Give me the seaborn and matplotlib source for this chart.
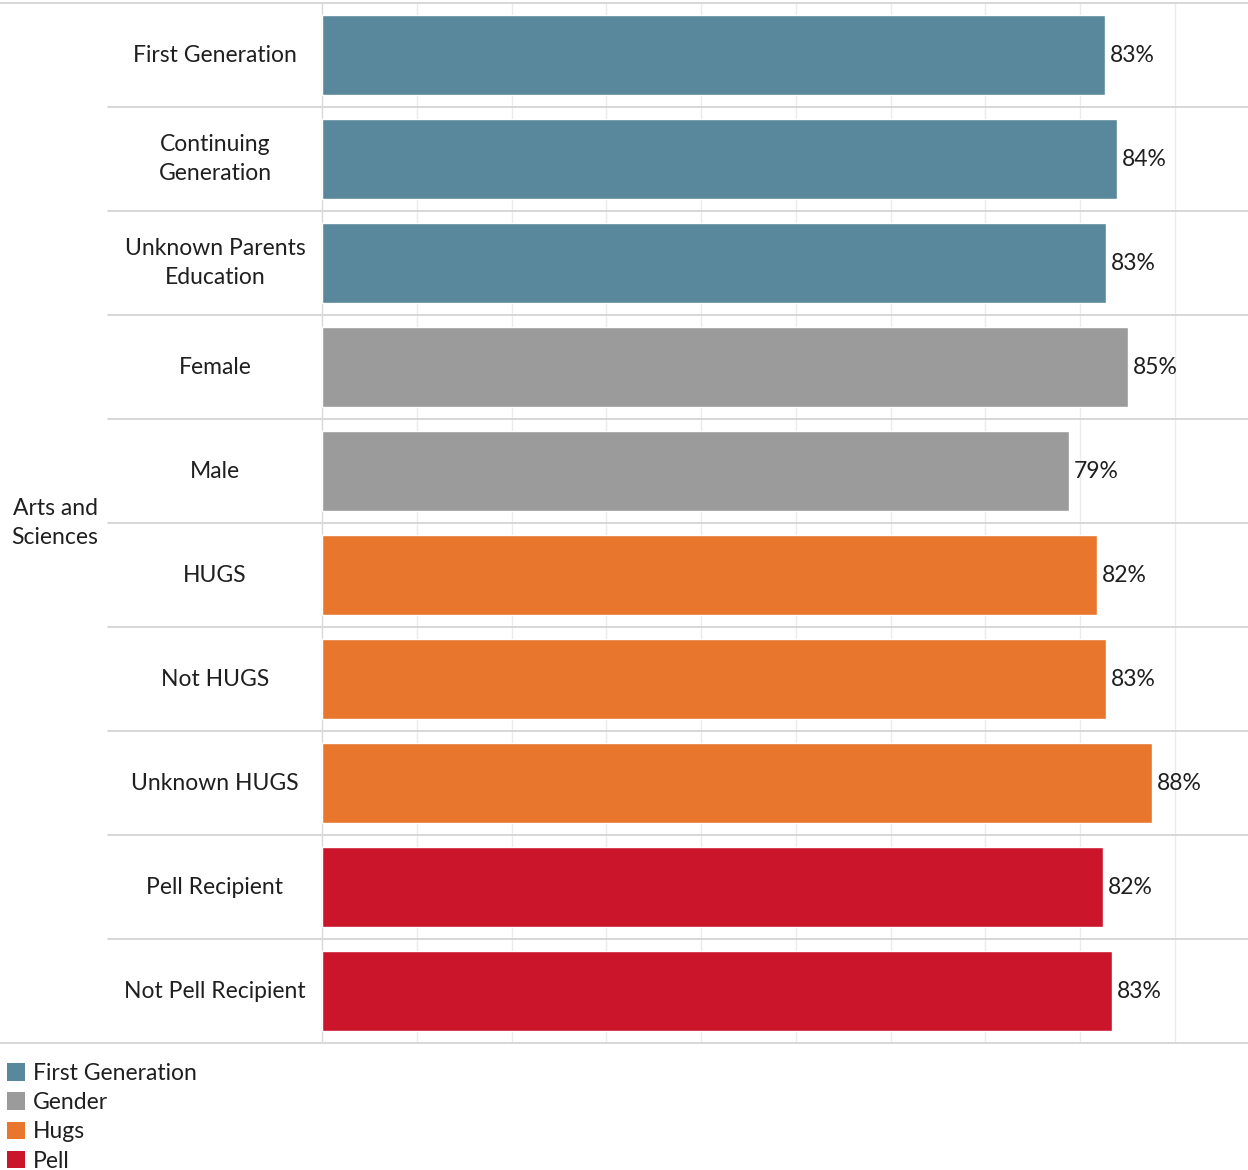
import matplotlib
matplotlib.use("Agg")
import matplotlib.pyplot as plt
import matplotlib.transforms as mtransforms
from matplotlib.patches import Patch
import pandas as pd
import seaborn as sns

# Retention rates by student group, Arts and Sciences
categories = [
    "First Generation", "Continuing\nGeneration", "Unknown Parents\nEducation",
    "Female", "Male", "HUGS", "Not HUGS", "Unknown HUGS",
    "Pell Recipient", "Not Pell Recipient",
]
groups = [
    "First Generation", "First Generation", "First Generation",
    "Gender", "Gender", "Hugs", "Hugs", "Hugs", "Pell", "Pell",
]
rates = [82.6, 83.9, 82.7, 85.0, 78.8, 81.8, 82.7, 87.6, 82.4, 83.4]
college = "Arts and\nSciences"
group_order = ["First Generation", "Gender", "Hugs", "Pell"]
group_colors = ["#59879B", "#9B9B9B", "#E8762D", "#CB152B"]

df = pd.DataFrame({"category": categories, "group": groups, "rate": rates})

sns.set_theme(style="white")
plt.rcParams["font.family"] = ["Lato", "DejaVu Sans"]

W, H = 1248, 1170
fig = plt.figure(figsize=(W / 100, H / 100), dpi=100)
left_px, top_px, bottom_px = 322, 3, 1043
ax = fig.add_axes([left_px / W, 1 - bottom_px / H, 1 - left_px / W, (bottom_px - top_px) / H])

palette = dict(zip(group_order, group_colors))
sns.barplot(data=df, x="rate", y="category", hue="group", hue_order=group_order,
            palette=palette, dodge=False, width=0.76, orient="h",
            saturation=1, legend=False, ax=ax, zorder=3)

n = len(categories)
ax.set_ylim(n - 0.5, -0.5)
ax.set_xlim(0, 97.7)
ax.set_xticks(range(10, 100, 10))
ax.xaxis.grid(True, color="#EBEBEB", linewidth=1)
ax.set_axisbelow(True)
ax.tick_params(left=False, bottom=False, labelleft=False, labelbottom=False)
ax.set_xlabel("")
ax.set_ylabel("")
for side in ["top", "right", "bottom"]:
    ax.spines[side].set_visible(False)
ax.spines["left"].set_color("#D9D9D9")
ax.spines["left"].set_linewidth(1)

text_color = "#1F1F1F"

# Value labels at bar ends
for i, v in enumerate(rates):
    ax.annotate(f"{v:.0f}%", (v, i), xytext=(3.5, 0), textcoords="offset points",
                va="center", ha="left", fontsize=16.5, color=text_color)

# Row headers and separators in figure coordinates across the table
trans = mtransforms.blended_transform_factory(fig.transFigure, ax.transData)
label_x = 215 / W
for i, name in enumerate(categories):
    ax.text(label_x, i, name, transform=trans, ha="center", va="center",
            fontsize=16.5, color=text_color, linespacing=1.5, clip_on=False)

sep_color = "#D4D4D4"
for i in range(n - 1):
    ax.plot([108 / W, 1], [i + 0.5, i + 0.5], transform=trans, color=sep_color,
            linewidth=1.3, clip_on=False, zorder=1)
for yb in [-0.5, n - 0.5]:
    ax.plot([0, 1], [yb, yb], transform=trans, color=sep_color,
            linewidth=1.3, clip_on=False, zorder=1)

ax.text(55 / W, (n - 1) / 2, college, transform=trans, ha="center",
        va="center", fontsize=16.5, color=text_color, linespacing=1.5, clip_on=False)

# Color legend below the table
handles = [Patch(facecolor=c, edgecolor="none", label=g) for g, c in zip(group_order, group_colors)]
fig.legend(handles=handles, loc="upper left", bbox_to_anchor=(0.0, 1 - 1056 / H),
           frameon=False, fontsize=16.5, handlelength=0.8, handleheight=0.8,
           handletextpad=0.35, labelspacing=0.36, borderaxespad=0.2,
           borderpad=0.1, labelcolor=text_color)

fig.savefig("out.png", dpi=100, facecolor="white")
